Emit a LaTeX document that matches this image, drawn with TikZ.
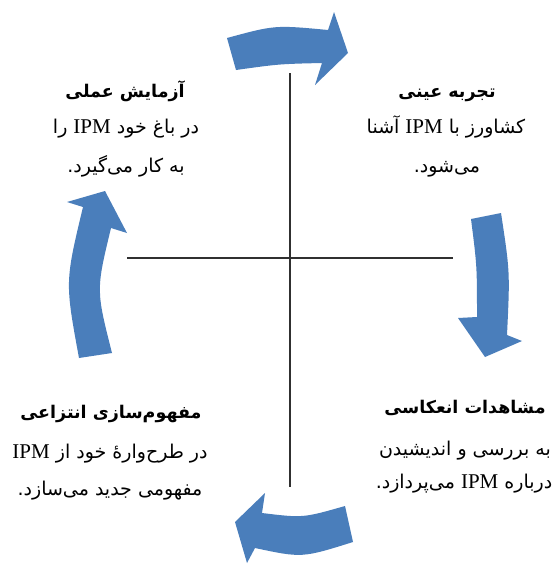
\documentclass[tikz,border=0pt]{standalone}
\usepackage{fontspec}
\newfontfamily\fafont[Script=Arabic]{DejaVu Sans}
\newfontfamily\latfont{Liberation Serif}
\TeXXeTstate=1
\newcommand\ipmword{\beginL{\latfont\fontsize{21}{24}\selectfont IPM}\endL{}}
\definecolor{arrowblue}{HTML}{4A7EBB}
\definecolor{axisgray}{HTML}{303030}
\tikzset{
  cyclearrow/.style={fill=arrowblue, draw=none},
  axisline/.style={draw=axisgray, line width=2.2pt},
  headtext/.style={font=\fafont\bfseries\fontsize{17.5}{21}\selectfont, inner sep=0pt, anchor=base},
  bodytext/.style={font=\fafont\fontsize{19}{22}\selectfont, inner sep=0pt, anchor=base},
}
\begin{document}
\begin{tikzpicture}[x=1pt,y=-1pt]
\path[use as bounding box, fill=white] (0,0) rectangle (555,565);

% axes
\coordinate (vtop) at (290,73);
\coordinate (vbot) at (290,487);
\coordinate (hleft) at (127,258);
\coordinate (hright) at (453,258);
\draw[axisline] (vtop) -- (vbot);
\draw[axisline] (hleft) -- (hright);

% curved arrows
\fill[cyclearrow] (227,38) .. controls (275,25) .. (328,30) -- (334,12) -- (348,53) -- (315,85) -- (322,63) .. controls (279,64) .. (236,70) -- cycle;
\fill[cyclearrow] (471,219) -- (501,213) .. controls (510,272) .. (507,335) -- (522,341) -- (485,357) -- (458,318) -- (477,317) .. controls (477,266) .. (471,219) -- cycle;
\fill[cyclearrow] (105,191) -- (127,233) -- (111,228) .. controls (96,290) .. (112,353) -- (79,358) .. controls (65,282) .. (83,207) -- (67,202) -- cycle;
\fill[cyclearrow] (235,522) -- (265,493) -- (262,513) .. controls (303,518) .. (345,506) -- (353,542) .. controls (302,558) .. (255,548) -- (247,563) -- cycle;

% top right
\node[headtext] (trh) at (447,97) {\beginR تجربه عینی\endR};
\node[bodytext] (tr1) at (446,133) {\beginR کشاورز با \ipmword{} آشنا\endR};
\node[bodytext] (tr2) at (447,172) {\beginR می^^^^200cشود.\endR};

% top left
\node[headtext] (tlh) at (125,97) {\beginR آزمایش عملی\endR};
\node[bodytext] (tl1) at (126,133) {\beginR در باغ خود \ipmword{} را\endR};
\node[bodytext] (tl2) at (126,172) {\beginR به کار می^^^^200cگیرد.\endR};

% bottom left
\node[headtext] (blh) at (111,418) {\beginR مفهوم^^^^200cسازی انتزاعی\endR};
\node[bodytext] (bl1) at (110,458) {\beginR در طرح^^^^200cواره^^^^0654 خود از \ipmword\endR};
\node[bodytext] (bl2) at (110,495) {\beginR مفهومی جدید می^^^^200cسازد.\endR};

% bottom right
\node[headtext] (brh) at (465,413) {\beginR مشاهدات انعکاسی\endR};
\node[bodytext] (br1) at (465,455) {\beginR به بررسی و اندیشیدن\endR};
\node[bodytext] (br2) at (464,488) {\beginR درباره \ipmword{} می^^^^200cپردازد.\endR};
\end{tikzpicture}
\end{document}
